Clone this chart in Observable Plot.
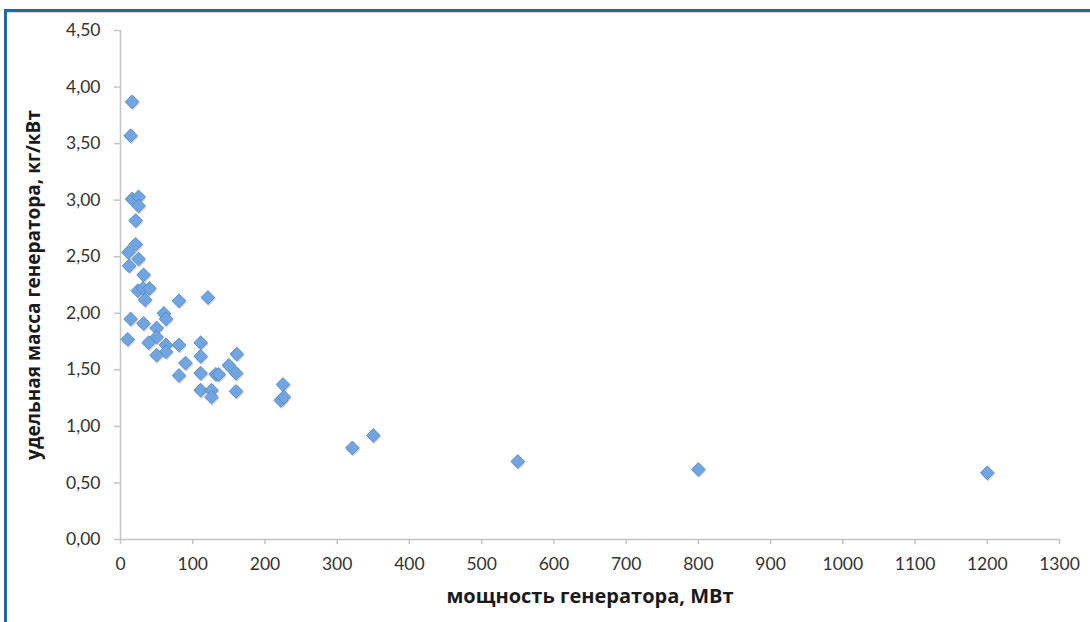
<!DOCTYPE html>
<html>
<head>
<meta charset="utf-8">
<script src="https://cdn.jsdelivr.net/npm/d3@7"></script>
<script src="https://cdn.jsdelivr.net/npm/@observablehq/plot@0.6"></script>
<style>
  html, body { margin: 0; padding: 0; background: #fff; overflow: hidden; }
  #wrap { position: relative; width: 1090px; height: 622px; }
  #chart { position: absolute; left: 0; top: 0; }
  .frameTop { position: absolute; left: 4px; top: 9px; width: 1086px; height: 3px; background: #1f6aa5; }
  .frameTop2 { position: absolute; left: 7px; top: 12px; width: 1083px; height: 1px; background: #d6dde4; }
  .frameLeft { position: absolute; left: 4px; top: 9px; width: 3px; height: 613px; background: #1f6aa5; }
</style>
</head>
<body>
<div id="wrap">
  <div id="chart"></div>
  <div class="frameTop"></div>
  <div class="frameTop2"></div>
  <div class="frameLeft"></div>
</div>
<script>
// Generator power, MW
const power = [16, 14, 16, 25, 25, 21, 21, 11, 25, 12, 32, 24, 31, 40, 34, 81, 121, 60, 63, 14,
               32, 50, 50, 10, 39, 63, 81, 111, 63, 50, 111, 161, 90, 150, 81, 111, 132, 136, 160, 111,
               126, 126, 160, 225, 222, 226, 321, 350, 550, 800, 1200];
// Specific generator mass, kg/kW
const mass  = [3.87, 3.57, 3.01, 3.03, 2.95, 2.82, 2.61, 2.54, 2.48, 2.42, 2.34, 2.20, 2.22, 2.22, 2.12, 2.11, 2.14, 2.00, 1.95, 1.95,
               1.91, 1.87, 1.79, 1.77, 1.74, 1.72, 1.72, 1.74, 1.66, 1.63, 1.62, 1.64, 1.56, 1.54, 1.45, 1.47, 1.46, 1.46, 1.47, 1.32,
               1.32, 1.26, 1.31, 1.37, 1.23, 1.26, 0.81, 0.92, 0.69, 0.62, 0.59];
const xTicks = [0, 100, 200, 300, 400, 500, 600, 700, 800, 900, 1000, 1100, 1200, 1300];
const yTicks = [0, 0.5, 1, 1.5, 2, 2.5, 3, 3.5, 4, 4.5];
const xTitle = "мощность генератора, МВт";
const yTitle = "удельная масса генератора, кг/кВт";

const data = power.map((p, i) => ({power: p, mass: mass[i]}));
const fmtY = d => d3.format(".2f")(d).replace(".", ",");
const font = "Lato, 'Open Sans', sans-serif";
const titleFont = "'Open Sans', Lato, sans-serif";

const chart = Plot.plot({
  width: 1090,
  height: 622,
  marginLeft: 120,
  marginRight: 31,
  marginTop: 30,
  marginBottom: 83,
  style: {fontFamily: font, background: "transparent"},
  x: {domain: [0, 1300]},
  y: {domain: [0, 4.5]},
  marks: [
    Plot.ruleX([0], {stroke: "#c4c4c4", strokeWidth: 1.5}),
    Plot.ruleY([0], {stroke: "#c4c4c4", strokeWidth: 1.5}),
    Plot.axisY({ticks: yTicks, tickFormat: fmtY, tickSize: 6, tickPadding: 14, stroke: "#c4c4c4", strokeWidth: 1.5, fill: "#333", fontSize: 17.5, label: null}),
    Plot.axisX({ticks: xTicks, tickFormat: d => String(d), tickSize: 5, tickPadding: 13, stroke: "#c4c4c4", strokeWidth: 1.5, fill: "#333", fontSize: 17.5, label: null}),
    // marker shadow
    Plot.dot(data, {x: "power", y: "mass", symbol: "diamond2", r: 6.4, fill: "#8a8a8a", fillOpacity: 0.35, dx: 0.8, dy: 1.6}),
    Plot.dot(data, {x: "power", y: "mass", symbol: "diamond2", r: 6.2, fill: "#70a5e2", stroke: "#4b84c6", strokeWidth: 0.8}),
    Plot.text([xTitle], {frameAnchor: "bottom", dy: 57, text: d => d, fontSize: 20, fontWeight: "bold", fontFamily: titleFont, fill: "#1a1a1a", lineAnchor: "middle", textAnchor: "middle"}),
    Plot.text([yTitle], {frameAnchor: "left", dx: -87, rotate: -90, text: d => d, fontSize: 19, fontWeight: "bold", fontFamily: titleFont, fill: "#1a1a1a", lineAnchor: "middle", textAnchor: "middle"})
  ]
});
document.getElementById("chart").appendChild(chart);
</script>
</body>
</html>
